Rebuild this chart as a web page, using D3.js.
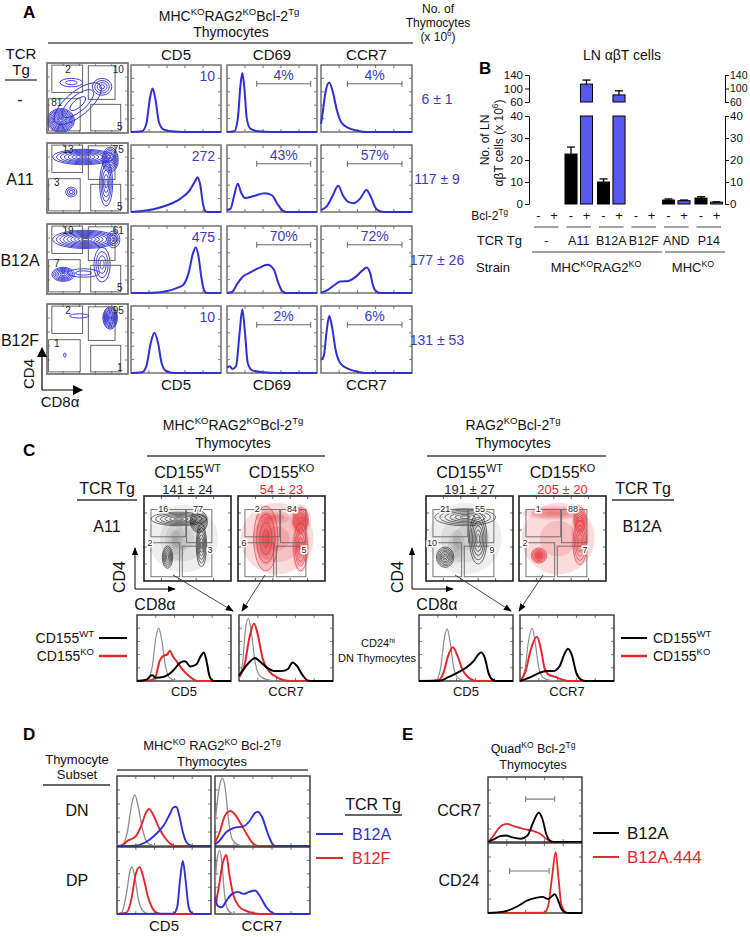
<!DOCTYPE html>
<html><head><meta charset="utf-8">
<script src="https://cdn.jsdelivr.net/npm/d3@7"></script>
<style>body{margin:0;background:#fff} text{font-family:"Liberation Sans",Arial,sans-serif}</style>
</head><body><script>
// ================= DATA =================
// ---- Panel A
const rowsA = ["-", "A11", "B12A", "B12F"];
const thymoCountsA = ["6 ± 1", "117 ± 9", "177 ± 26", "131 ± 53"];
const cd5MfiA = ["10", "272", "475", "10"];
const cd69PctA = ["4%", "43%", "70%", "2%"];
const ccr7PctA = ["4%", "57%", "72%", "6%"];
const gateNumsA = [["2","10","81","5"],["13","75","3","5"],["19","61","7","5"],["2","95","1","1"]];
const histA_CD5 = [
  [[0,0],[0.12,0.01],[0.17,0.12],[0.21,0.5],[0.24,0.65],[0.27,0.5],[0.31,0.15],[0.36,0.04],[0.45,0.01],[0.6,0],[1,0]],
  [[0,0],[0.1,0.01],[0.25,0.04],[0.4,0.1],[0.55,0.2],[0.65,0.32],[0.72,0.48],[0.74,0.52],[0.77,0.4],[0.8,0.12],[0.83,0.01],[0.86,0],[1,0]],
  [[0,0],[0.25,0.005],[0.4,0.03],[0.5,0.07],[0.58,0.12],[0.64,0.3],[0.69,0.6],[0.72,0.68],[0.75,0.55],[0.78,0.25],[0.81,0.05],[0.84,0],[1,0]],
  [[0,0],[0.12,0.01],[0.17,0.1],[0.22,0.45],[0.26,0.6],[0.3,0.45],[0.34,0.15],[0.39,0.03],[0.48,0],[1,0]]
];
const histA_CD69 = [
  [[0,0],[0.08,0.01],[0.12,0.2],[0.15,0.7],[0.17,0.88],[0.19,0.7],[0.22,0.2],[0.26,0.05],[0.35,0.01],[0.5,0],[1,0]],
  [[0,0.03],[0.04,0.05],[0.08,0.25],[0.12,0.42],[0.16,0.28],[0.2,0.21],[0.3,0.24],[0.42,0.28],[0.5,0.25],[0.56,0.12],[0.62,0.02],[0.66,0],[1,0]],
  [[0,0],[0.05,0.01],[0.12,0.15],[0.18,0.25],[0.25,0.3],[0.35,0.37],[0.45,0.42],[0.52,0.35],[0.57,0.15],[0.62,0.02],[0.66,0],[1,0]],
  [[0,0.08],[0.03,0.1],[0.06,0.06],[0.1,0.1],[0.14,0.6],[0.17,0.95],[0.2,0.6],[0.23,0.15],[0.28,0.04],[0.4,0.01],[0.55,0],[1,0]]
];
const histA_CCR7 = [
  [[0,0.12],[0.02,0.3],[0.05,0.6],[0.09,0.74],[0.13,0.6],[0.17,0.35],[0.22,0.15],[0.3,0.06],[0.4,0.02],[0.5,0],[1,0]],
  [[0,0.03],[0.06,0.08],[0.12,0.22],[0.19,0.39],[0.24,0.25],[0.3,0.15],[0.36,0.13],[0.43,0.2],[0.5,0.33],[0.55,0.22],[0.6,0.06],[0.65,0.01],[0.7,0],[1,0]],
  [[0,0],[0.08,0.05],[0.15,0.12],[0.21,0.17],[0.3,0.18],[0.38,0.24],[0.45,0.33],[0.5,0.38],[0.54,0.3],[0.57,0.12],[0.61,0.02],[0.65,0],[1,0]],
  [[0,0.2],[0.03,0.25],[0.06,0.6],[0.09,0.85],[0.12,0.7],[0.16,0.35],[0.21,0.15],[0.3,0.06],[0.4,0.02],[0.5,0],[1,0]]
];
// contour blobs: [cx, cy, rx, ry, angle, levels, fillOnly]
const blobsA = [
  [[0.17,0.18,0.17,0.17,0,11,0],[0.38,0.42,0.36,0.17,40,3,0],[0.68,0.66,0.12,0.12,0,4,0],[0.3,0.72,0.14,0.06,0,2,0]],
  [[0.45,0.8,0.38,0.11,0,8,0],[0.78,0.76,0.1,0.18,0,8,0],[0.73,0.42,0.08,0.32,0,5,0],[0.3,0.3,0.07,0.07,0,3,0]],
  [[0.47,0.78,0.4,0.13,0,9,0],[0.82,0.78,0.08,0.12,0,4,0],[0.68,0.42,0.1,0.25,0,4,0],[0.2,0.28,0.14,0.1,0,7,0],[0.45,0.3,0.2,0.06,0,2,0]],
  [[0.78,0.8,0.09,0.16,0,10,0],[0.4,0.83,0.12,0.03,0,1,0],[0.22,0.27,0.015,0.03,0,1,0]]
];

// ---- Panel B
const tcrB = ["-", "A11", "B12A", "B12F", "AND", "P14"];
const bclB = ["-", "+"];
const lnMinus = [0, 22.7, 10, 0, 1.8, 2.7];
const lnMinusErr = [0, 3.2, 1.4, 0, 0.5, 0.6];
const lnPlus = [0, 113, 81, 0, 1.5, 0.8];
const lnPlusErr = [0, 12, 12, 0, 0.3, 0.2];
const lowTicksB = [0, 10, 20, 30, 40];
const upTicksB = [60, 100, 140];

// ---- Panel C
const gateNumsC = [["16","77","2","3"],["2","84","6","5"],["21","55","10","9"],["1","88","2","7"]];
const countsC = ["141 ± 24", "54 ± 23", "191 ± 27", "205 ± 20"];
const blobsC = [
  [[0.45,0.5,0.4,0.4,0,3,1],[0.4,0.73,0.32,0.08,0,6,0],[0.63,0.7,0.1,0.13,0,8,0],[0.66,0.42,0.06,0.25,0,6,0],[0.27,0.28,0.06,0.13,0,6,0],[0.36,0.45,0.12,0.22,0,3,1]],
  [[0.45,0.5,0.42,0.42,0,3,1],[0.32,0.5,0.14,0.38,0,6,1],[0.32,0.5,0.14,0.38,0,4,0],[0.4,0.75,0.2,0.08,0,3,1],[0.72,0.72,0.09,0.15,0,8,0],[0.72,0.72,0.12,0.18,0,4,1],[0.72,0.4,0.08,0.28,0,5,0],[0.72,0.4,0.1,0.3,0,3,1]],
  [[0.45,0.5,0.42,0.42,0,3,1],[0.45,0.75,0.35,0.1,0,6,0],[0.6,0.5,0.1,0.3,0,6,0],[0.22,0.28,0.1,0.12,0,7,0],[0.35,0.4,0.1,0.2,0,3,1]],
  [[0.45,0.5,0.42,0.42,0,2,1],[0.4,0.8,0.36,0.08,0,4,1],[0.7,0.72,0.07,0.15,0,7,0],[0.7,0.45,0.08,0.26,0,5,0],[0.7,0.55,0.1,0.35,0,3,1],[0.23,0.3,0.09,0.09,0,6,1],[0.23,0.3,0.09,0.09,0,6,0]]
];
// histograms: [isotype, CD155KO, CD155WT]
const histC_A11_CD5 = [
  [[0,0],[0.1,0.01],[0.16,0.2],[0.2,0.65],[0.23,0.8],[0.26,0.65],[0.3,0.25],[0.34,0.06],[0.4,0.01],[0.5,0],[1,0]],
  [[0,0],[0.15,0.01],[0.2,0.08],[0.24,0.3],[0.28,0.38],[0.32,0.4],[0.35,0.46],[0.38,0.38],[0.42,0.3],[0.48,0.18],[0.55,0.08],[0.62,0.01],[0.66,0],[1,0]],
  [[0,0],[0.1,0.02],[0.16,0.09],[0.2,0.05],[0.28,0.06],[0.38,0.15],[0.46,0.28],[0.51,0.3],[0.57,0.22],[0.63,0.25],[0.68,0.38],[0.71,0.43],[0.74,0.3],[0.77,0.08],[0.8,0.01],[0.83,0],[1,0]]
];
const histC_A11_CCR7 = [
  [[0,0.05],[0.04,0.3],[0.07,0.8],[0.1,0.95],[0.13,0.75],[0.17,0.3],[0.22,0.08],[0.3,0.02],[0.4,0],[1,0]],
  [[0,0.05],[0.06,0.25],[0.11,0.65],[0.16,0.87],[0.2,0.7],[0.25,0.35],[0.32,0.15],[0.4,0.06],[0.48,0.01],[0.55,0],[1,0]],
  [[0,0.08],[0.06,0.2],[0.12,0.3],[0.17,0.35],[0.22,0.3],[0.3,0.2],[0.38,0.15],[0.45,0.15],[0.52,0.18],[0.57,0.28],[0.62,0.22],[0.68,0.08],[0.73,0.01],[0.78,0],[1,0]]
];
const histC_B12A_CD5 = [
  [[0,0],[0.18,0.01],[0.23,0.2],[0.27,0.65],[0.3,0.79],[0.33,0.6],[0.37,0.2],[0.42,0.04],[0.5,0],[1,0]],
  [[0,0],[0.2,0.01],[0.26,0.12],[0.31,0.38],[0.36,0.51],[0.41,0.38],[0.46,0.18],[0.52,0.06],[0.58,0.01],[0.62,0],[1,0]],
  [[0,0],[0.22,0.005],[0.3,0.05],[0.4,0.12],[0.5,0.2],[0.58,0.3],[0.63,0.4],[0.66,0.43],[0.7,0.35],[0.74,0.12],[0.78,0.02],[0.82,0],[1,0]]
];
const histC_B12A_CCR7 = [
  [[0,0],[0.05,0.15],[0.09,0.6],[0.13,0.8],[0.16,0.6],[0.2,0.2],[0.25,0.05],[0.32,0.01],[0.4,0],[1,0]],
  [[0,0],[0.06,0.15],[0.11,0.45],[0.18,0.67],[0.22,0.5],[0.26,0.2],[0.3,0.1],[0.38,0.06],[0.45,0.02],[0.52,0],[1,0]],
  [[0,0],[0.1,0.05],[0.2,0.12],[0.28,0.15],[0.35,0.15],[0.42,0.22],[0.47,0.4],[0.51,0.49],[0.55,0.4],[0.6,0.12],[0.65,0.02],[0.7,0],[1,0]]
];

// ---- Panel D  [isotype, B12F, B12A]
const histD_DN_CD5 = [
  [[0,0],[0.06,0.02],[0.11,0.2],[0.16,0.62],[0.19,0.73],[0.22,0.6],[0.27,0.25],[0.32,0.05],[0.38,0.01],[0.45,0],[1,0]],
  [[0,0],[0.05,0.01],[0.12,0.08],[0.2,0.14],[0.26,0.3],[0.31,0.48],[0.34,0.53],[0.38,0.46],[0.45,0.25],[0.52,0.1],[0.58,0.02],[0.62,0],[1,0]],
  [[0,0],[0.2,0.005],[0.3,0.05],[0.4,0.15],[0.5,0.3],[0.56,0.45],[0.6,0.55],[0.63,0.56],[0.66,0.45],[0.7,0.2],[0.74,0.05],[0.78,0.01],[0.82,0],[1,0]]
];
const histD_DN_CCR7 = [
  [[0,0.3],[0.03,0.7],[0.06,0.93],[0.08,0.97],[0.11,0.8],[0.14,0.4],[0.18,0.1],[0.24,0.02],[0.3,0],[1,0]],
  [[0,0.05],[0.05,0.2],[0.1,0.42],[0.16,0.5],[0.21,0.45],[0.27,0.32],[0.33,0.18],[0.38,0.07],[0.43,0.01],[0.47,0],[1,0]],
  [[0,0.02],[0.05,0.08],[0.12,0.2],[0.2,0.26],[0.3,0.28],[0.36,0.35],[0.42,0.47],[0.45,0.49],[0.5,0.4],[0.55,0.2],[0.6,0.04],[0.64,0],[1,0]]
];
const histD_DP_CD5 = [
  [[0,0],[0.05,0.02],[0.1,0.3],[0.14,0.65],[0.16,0.7],[0.19,0.55],[0.23,0.2],[0.28,0.04],[0.34,0],[1,0]],
  [[0,0],[0.1,0.02],[0.15,0.2],[0.2,0.6],[0.24,0.7],[0.28,0.55],[0.33,0.25],[0.38,0.08],[0.44,0.01],[0.5,0],[1,0]],
  [[0,0],[0.6,0.005],[0.64,0.1],[0.67,0.5],[0.7,0.79],[0.73,0.5],[0.76,0.12],[0.79,0.02],[0.82,0],[1,0]]
];
const histD_DP_CCR7 = [
  [[0,0.4],[0.02,0.8],[0.05,0.95],[0.07,0.8],[0.1,0.3],[0.13,0.08],[0.18,0.01],[0.25,0],[1,0]],
  [[0,0.1],[0.04,0.4],[0.08,0.75],[0.12,0.88],[0.15,0.6],[0.19,0.3],[0.25,0.12],[0.32,0.05],[0.42,0.01],[0.5,0],[1,0]],
  [[0,0.25],[0.03,0.12],[0.07,0.1],[0.12,0.2],[0.18,0.3],[0.24,0.33],[0.3,0.3],[0.36,0.33],[0.42,0.35],[0.48,0.25],[0.54,0.1],[0.6,0.02],[0.64,0],[1,0]]
];

// ---- Panel E  [B12A.444, B12A]
const histE_CCR7 = [
  [[0,0],[0.05,0.08],[0.12,0.22],[0.2,0.28],[0.28,0.24],[0.38,0.2],[0.48,0.17],[0.55,0.13],[0.61,0.06],[0.66,0.01],[0.7,0],[1,0]],
  [[0,0],[0.06,0.04],[0.13,0.09],[0.19,0.1],[0.26,0.07],[0.35,0.05],[0.42,0.1],[0.48,0.3],[0.54,0.45],[0.58,0.35],[0.62,0.12],[0.66,0.02],[0.7,0],[1,0]]
];
const histE_CD24 = [
  [[0,0],[0.6,0.005],[0.64,0.1],[0.68,0.5],[0.72,0.87],[0.75,0.5],[0.78,0.12],[0.82,0.02],[0.86,0],[1,0]],
  [[0,0],[0.1,0.01],[0.2,0.03],[0.32,0.1],[0.42,0.18],[0.52,0.22],[0.58,0.23],[0.64,0.2],[0.68,0.24],[0.71,0.27],[0.74,0.2],[0.78,0.06],[0.82,0.01],[0.86,0],[1,0]]
];

// ================= DRAWING =================
const BLUE = "#2f2fd2", BLUET = "#3a3ac8", RED = "#e3262a", GRAY = "#8c8c8c", BARBLUE = "#5757f2";
const svg = d3.select("body").append("svg").attr("width", 750).attr("height", 937);
const defs = svg.append("defs");
defs.append("marker").attr("id", "arr").attr("viewBox", "0 0 10 10").attr("refX", 9).attr("refY", 5)
  .attr("markerWidth", 8).attr("markerHeight", 8).attr("markerUnits", "userSpaceOnUse").attr("orient", "auto")
  .append("path").attr("d", "M0,1L10,5L0,9z").attr("fill", "#000");
defs.append("marker").attr("id", "arr2").attr("viewBox", "0 0 10 10").attr("refX", 9).attr("refY", 5)
  .attr("markerWidth", 10).attr("markerHeight", 10).attr("markerUnits", "userSpaceOnUse").attr("orient", "auto")
  .append("path").attr("d", "M0,0L10,5L0,10z").attr("fill", "#000");

function rich(x, y, str, o = {}) {
  const size = o.size || 13;
  const t = svg.append("text").attr("x", x).attr("y", y).attr("text-anchor", o.anchor || "middle")
    .attr("font-size", size).attr("fill", o.fill || "#111");
  if (o.weight) t.attr("font-weight", o.weight);
  if (o.rotate) t.attr("transform", `rotate(${o.rotate},${x},${y})`);
  let sup = false;
  str.split(/(\^\{[^}]*\})/).forEach(p => {
    if (!p) return;
    if (p.startsWith("^{")) {
      t.append("tspan").attr("font-size", size * 0.68).attr("dy", -size * 0.4).text(p.slice(2, -1));
      sup = true;
    } else {
      const ts = t.append("tspan").text(p);
      if (sup) { ts.attr("dy", size * 0.4); sup = false; }
    }
  });
  return t;
}
function hline(x1, x2, y, col = "#444", w = 1.3) {
  svg.append("line").attr("x1", x1).attr("x2", x2).attr("y1", y).attr("y2", y).attr("stroke", col).attr("stroke-width", w);
}
function frame(x0, y0, w, h, col, sw, tcol) {
  const g = svg.append("g");
  const sx = d3.scaleLinear([0, 1], [x0, x0 + w]), sy = d3.scaleLinear([0, 1], [y0 + h, y0]);
  const tv = sx.ticks(5).filter(t => t > 0 && t < 1);
  tv.forEach(t => {
    g.append("line").attr("x1", sx(t)).attr("x2", sx(t)).attr("y1", y0).attr("y2", y0 + 3).attr("stroke", tcol);
    g.append("line").attr("x1", sx(t)).attr("x2", sx(t)).attr("y1", y0 + h).attr("y2", y0 + h - 3).attr("stroke", tcol);
    g.append("line").attr("y1", sy(t)).attr("y2", sy(t)).attr("x1", x0).attr("x2", x0 + 3).attr("stroke", tcol);
    g.append("line").attr("y1", sy(t)).attr("y2", sy(t)).attr("x1", x0 + w).attr("x2", x0 + w - 3).attr("stroke", tcol);
  });
  g.append("rect").attr("x", x0).attr("y", y0).attr("width", w).attr("height", h)
    .attr("fill", "none").attr("stroke", col).attr("stroke-width", sw);
  return { sx, sy, g };
}
function hist(x0, y0, w, h, curves, colors, o = {}) {
  const { sx, sy } = frame(x0, y0, w, h, o.frame || "#333", o.fw || 1.4, o.tick || "#777");
  const line = d3.line().x(d => sx(d[0])).y(d => sy(d[1])).curve(d3.curveMonotoneX);
  curves.forEach((c, i) => {
    svg.append("path").attr("d", line(c)).attr("fill", "none").attr("stroke", colors[i])
      .attr("stroke-width", (o.widths ? o.widths[i] : 1.8)).attr("stroke-linejoin", "round");
  });
  return { sx, sy };
}
function contourPlot(x0, y0, w, h, blobs, color, o = {}) {
  const clipId = "clip" + Math.round(x0) + "_" + Math.round(y0);
  defs.append("clipPath").attr("id", clipId).append("rect").attr("x", x0).attr("y", y0).attr("width", w).attr("height", h);
  const g = svg.append("g").attr("clip-path", `url(#${clipId})`);
  const sx = d3.scaleLinear([0, 1], [x0, x0 + w]), sy = d3.scaleLinear([0, 1], [y0 + h, y0]);
  blobs.filter(b => b[6]).forEach(b => drawBlob(b, true));
  blobs.filter(b => !b[6]).forEach(b => drawBlob(b, false));
  function drawBlob(b, fillOnly) {
    const [cx, cy, rx, ry, ang, n] = b;
    for (let i = n; i >= 1; i--) {
      const px = sx(cx), py = sy(cy);
      const e = g.append("ellipse").attr("cx", px).attr("cy", py)
        .attr("rx", (sx(rx) - sx(0)) * i / n).attr("ry", (sy(0) - sy(ry)) * i / n)
        .attr("transform", `rotate(${-ang},${px},${py})`);
      if (fillOnly) e.attr("fill", color).attr("fill-opacity", o.fop || 0.1).attr("stroke", "none");
      else e.attr("fill", "none").attr("stroke", color).attr("stroke-width", o.sw || 0.8).attr("stroke-opacity", o.sop || 1);
    }
  }
  frame(x0, y0, w, h, o.frame || "#666", o.fw || 1.6, o.tick || "#888");
  return { sx, sy };
}
function gates(sx, sy, rects, nums, pos, o = {}) {
  rects.forEach(r => {
    svg.append("rect").attr("x", sx(r[0])).attr("y", sy(r[3])).attr("width", sx(r[1]) - sx(r[0]))
      .attr("height", sy(r[2]) - sy(r[3])).attr("fill", "none").attr("stroke", o.col || "#444").attr("stroke-width", o.sw || 0.9);
  });
  nums.forEach((n, i) => {
    const t = svg.append("text").attr("x", sx(pos[i][0])).attr("y", sy(pos[i][1])).attr("text-anchor", "middle")
      .attr("font-size", o.size || 10).attr("fill", "#222").text(n);
    if (o.halo) t.attr("stroke", "#fff").attr("stroke-width", 3).attr("paint-order", "stroke");
  });
}

// ---------- Panel A ----------
svg.append("text").attr("x", 23).attr("y", 18).attr("font-size", 17).attr("font-weight", "bold").text("A");
rich(229, 21, "MHC^{KO}RAG2^{KO}Bcl-2^{Tg}", { size: 14 });
rich(231, 37, "Thymocytes", { size: 14 });
hline(48, 413, 43, "#555", 1.3);
rich(438, 13, "No. of", { size: 12 });
rich(438, 27, "Thymocytes", { size: 12 });
rich(438, 41, "(x 10^{6})", { size: 12 });
rich(21, 59, "TCR", { size: 15 });
rich(21, 75, "Tg", { size: 15 });
hline(5, 37, 80, "#333", 1.3);
const colXA = [131, 227, 321], colWA = [90, 90, 91];
["CD5", "CD69", "CCR7"].forEach((c, i) => { rich(colXA[i] + colWA[i] / 2, 60, c, { size: 15 }); rich(colXA[i] + colWA[i] / 2, 390, c, { size: 15 }); });
const rowYA = [65, 145, 226, 306], hA = 67;
const gateRectsA = [[0.06, 0.44, 0.58, 0.97], [0.51, 0.84, 0.48, 0.96], [0.02, 0.41, 0.03, 0.49], [0.54, 0.91, 0.03, 0.41]];
const gatePosA = [[0.26, 0.86], [0.88, 0.86], [0.12, 0.39], [0.9, 0.05]];
rowsA.forEach((r, i) => {
  const y0 = rowYA[i];
  rich(20, y0 + hA / 2 + 6, r, { size: 16 });
  const c = contourPlot(47, y0 - 2, 81, hA + 3, blobsA[i], BLUE, { sw: 0.9 });
  gates(c.sx, c.sy, gateRectsA, gateNumsA[i], gatePosA, { size: 10, col: "#555" });
  hist(colXA[0], y0, colWA[0], hA, [histA_CD5[i]], [BLUE], { frame: "#666", fw: 1.4, widths: [2] });
  svg.append("text").attr("x", colXA[0] + colWA[0] - 6).attr("y", y0 + 16).attr("text-anchor", "end")
    .attr("font-size", 14).attr("fill", BLUET).text(cd5MfiA[i]);
  const pcts = [cd69PctA[i], ccr7PctA[i]], gx = [[0.33, 0.93], [0.29, 0.89]];
  [1, 2].forEach((k, j) => {
    const data = k === 1 ? histA_CD69[i] : histA_CCR7[i];
    const s = hist(colXA[k], y0, colWA[k], hA, [data], [BLUE], { frame: "#666", fw: 1.4, widths: [2] });
    const yb = s.sy(0.72), xa = s.sx(gx[j][0]), xb = s.sx(gx[j][1]);
    hline(xa, xb, yb, "#666", 1);
    [xa, xb].forEach(x => svg.append("line").attr("x1", x).attr("x2", x).attr("y1", yb - 3).attr("y2", yb + 3).attr("stroke", "#666"));
    svg.append("text").attr("x", (xa + xb) / 2).attr("y", yb - 4).attr("text-anchor", "middle")
      .attr("font-size", 14).attr("fill", BLUET).text(pcts[j]);
  });
  svg.append("text").attr("x", 437).attr("y", y0 + hA / 2 + 5).attr("text-anchor", "middle")
    .attr("font-size", 14).attr("fill", BLUET).text(thymoCountsA[i]);
});
svg.append("path").attr("d", "M42,390L42,348").attr("stroke", "#000").attr("stroke-width", 1.2).attr("marker-end", "url(#arr2)");
svg.append("path").attr("d", "M42,390L82,390").attr("stroke", "#000").attr("stroke-width", 1.2).attr("marker-end", "url(#arr2)");
rich(34, 374, "CD4", { size: 15, rotate: -90 });
rich(60, 407, "CD8α", { size: 15 });

// ---------- Panel B ----------
svg.append("text").attr("x", 479).attr("y", 74).attr("font-size", 17).attr("font-weight", "bold").text("B");
rich(622, 60, "LN αβT cells", { size: 14 });
const xG = d3.scaleBand().domain(tcrB).range([530, 725]);
const xS = d3.scaleBand().domain(bclB).range([0, xG.bandwidth()]).paddingInner(0.22).paddingOuter(0.16);
const yLow = d3.scaleLinear().domain([0, 40]).range([204, 116]);
const yUp = d3.scaleLinear().domain([60, 140]).range([102, 75]);
function styleAx(g) { g.attr("font-family", "Liberation Sans, Arial, sans-serif").attr("font-size", 11.5); g.selectAll("text").attr("fill", "#111"); g.selectAll("path,line").attr("stroke", "#111"); }
svg.append("g").attr("transform", "translate(529,0)").call(d3.axisLeft(yLow).tickValues(lowTicksB).tickSize(4).tickSizeOuter(0).tickPadding(2)).call(styleAx);
svg.append("g").attr("transform", "translate(529,0)").call(d3.axisLeft(yUp).tickValues(upTicksB).tickSize(4).tickSizeOuter(0).tickPadding(2)).call(styleAx);
svg.append("g").attr("transform", "translate(725,0)").call(d3.axisRight(yLow).tickValues(lowTicksB).tickSize(4).tickSizeOuter(0).tickPadding(1)).call(styleAx);
svg.append("g").attr("transform", "translate(725,0)").call(d3.axisRight(yUp).tickValues(upTicksB).tickSize(4).tickSizeOuter(0).tickPadding(1)).call(styleAx)
  .selectAll("text").attr("font-size", 10.5);
rich(489, 140, "No. of LN", { size: 12, rotate: -90 });
rich(503, 143, "αβT cells (x 10^{6})", { size: 12, rotate: -90 });
tcrB.forEach((grp, i) => {
  const vals = [lnMinus[i], lnPlus[i]], errs = [lnMinusErr[i], lnPlusErr[i]], cols = ["#000", BARBLUE];
  bclB.forEach((b, j) => {
    const x = xG(grp) + xS(b), bw = xS.bandwidth(), v = vals[j], cx = x + bw / 2;
    if (v <= 40) {
      svg.append("rect").attr("x", x).attr("y", yLow(v)).attr("width", bw).attr("height", yLow(0) - yLow(v))
        .attr("fill", cols[j]).attr("stroke", "#000").attr("stroke-width", 1);
      if (errs[j] > 0) {
        const yt = yLow(v + errs[j]);
        svg.append("line").attr("x1", cx).attr("x2", cx).attr("y1", yLow(v)).attr("y2", yt).attr("stroke", "#000").attr("stroke-width", 1.3);
        svg.append("line").attr("x1", cx - 4).attr("x2", cx + 4).attr("y1", yt).attr("y2", yt).attr("stroke", "#000").attr("stroke-width", 1.3);
      }
    } else {
      svg.append("rect").attr("x", x).attr("y", yLow(40)).attr("width", bw).attr("height", yLow(0) - yLow(40))
        .attr("fill", cols[j]).attr("stroke", "#000").attr("stroke-width", 1);
      svg.append("rect").attr("x", x).attr("y", yUp(v)).attr("width", bw).attr("height", yUp(60) - yUp(v))
        .attr("fill", cols[j]).attr("stroke", "#000").attr("stroke-width", 1);
      const yt = yUp(v + errs[j]);
      svg.append("line").attr("x1", cx).attr("x2", cx).attr("y1", yUp(v)).attr("y2", yt).attr("stroke", "#000").attr("stroke-width", 1.3);
      svg.append("line").attr("x1", cx - 4).attr("x2", cx + 4).attr("y1", yt).attr("y2", yt).attr("stroke", "#000").attr("stroke-width", 1.3);
    }
    rich(cx, 220, b, { size: 13 });
  });
  hline(xG(grp) + 4, xG(grp) + xG.bandwidth() - 4, 227, "#444", 1);
  rich(xG(grp) + xG.bandwidth() / 2, 245, grp, { size: 12.5 });
});
rich(508, 220, "Bcl-2^{Tg}", { size: 12, anchor: "end" });
rich(522, 245, "TCR Tg", { size: 13, anchor: "end" });
rich(510, 272, "Strain", { size: 13, anchor: "end" });
hline(532, 662, 252, "#444", 1);
hline(665, 725, 252, "#444", 1);
rich(596, 272, "MHC^{KO}RAG2^{KO}", { size: 13 });
rich(693, 272, "MHC^{KO}", { size: 13 });

// ---------- Panel C ----------
svg.append("text").attr("x", 23).attr("y", 456).attr("font-size", 17).attr("font-weight", "bold").text("C");
rich(233, 430, "MHC^{KO}RAG2^{KO}Bcl-2^{Tg}", { size: 14 });
rich(233, 448, "Thymocytes", { size: 14 });
hline(147, 325, 456, "#444", 1.3);
rich(513, 430, "RAG2^{KO}Bcl-2^{Tg}", { size: 14 });
rich(513, 448, "Thymocytes", { size: 14 });
hline(427, 606, 456, "#444", 1.3);
const dotX = [144, 238, 426, 519], dotW = 87, dotY = 496, dotH = 85;
const headC = ["CD155^{WT}", "CD155^{KO}", "CD155^{WT}", "CD155^{KO}"];
const colC = ["#111", RED, "#111", RED];
const gateRectsC = [[0.08, 0.48, 0.52, 0.84], [0.49, 0.78, 0.45, 0.84], [0.08, 0.41, 0.05, 0.45], [0.44, 0.78, 0.05, 0.41]];
const gatePosC = [[0.22, 0.81], [0.62, 0.81], [0.07, 0.41], [0.76, 0.33]];
dotX.forEach((x, i) => {
  rich(x + dotW / 2, 478, headC[i], { size: 16 });
  rich(x + dotW / 2, 494, countsC[i], { size: 13, fill: i % 2 ? RED : "#222" });
  const c = contourPlot(x, dotY, dotW, dotH, blobsC[i], colC[i],
    { frame: "#222", fw: 1.6, tick: "#666", fop: i % 2 ? 0.16 : 0.07, sw: 0.7, sop: 0.85 });
  gates(c.sx, c.sy, gateRectsC, gateNumsC[i], gatePosC, { size: 9, col: "#666", halo: true });
});
rich(107, 494, "TCR Tg", { size: 16 });
hline(77, 137, 500, "#333", 1.3);
rich(107, 532, "A11", { size: 16 });
rich(643, 494, "TCR Tg", { size: 16 });
hline(612, 674, 500, "#333", 1.3);
rich(642, 532, "B12A", { size: 16 });
[[135, 175, 120, 155], [412, 453, 398, 437]].forEach(a => {
  svg.append("path").attr("d", `M${a[0]},589L${a[0]},548`).attr("stroke", "#000").attr("marker-end", "url(#arr)");
  svg.append("path").attr("d", `M${a[0]},589L${a[1]},589`).attr("stroke", "#000").attr("marker-end", "url(#arr)");
  rich(a[2] + 5, 577, "CD4", { size: 16, rotate: -90 });
  rich(a[3], 610, "CD8α", { size: 16 });
});
[[173, 575, 233, 611], [265, 575, 242, 611], [455, 575, 511, 611], [543, 575, 519, 611]].forEach(a => {
  svg.append("path").attr("d", `M${a[0]},${a[1]}L${a[2]},${a[3]}`).attr("stroke", "#333").attr("stroke-width", 0.9).attr("marker-end", "url(#arr)");
});
const histCBoxes = [[137, histC_A11_CD5, "CD5"], [239, histC_A11_CCR7, "CCR7"], [419, histC_B12A_CD5, "CD5"], [520, histC_B12A_CCR7, "CCR7"]];
histCBoxes.forEach(b => {
  hist(b[0], 615, 94, 66, b[1], [GRAY, RED, "#000"], { widths: [1.2, 2, 2] });
  rich(b[0] + 47, 696, b[2], { size: 13 });
});
rich(94, 643, "CD155^{WT}", { size: 14, anchor: "end" });
rich(94, 661, "CD155^{KO}", { size: 14, anchor: "end" });
hline(99, 127, 638, "#000", 2); hline(99, 127, 656, RED, 2.5);
rich(653, 643, "CD155^{WT}", { size: 14, anchor: "start" });
rich(653, 661, "CD155^{KO}", { size: 14, anchor: "start" });
hline(621, 647, 638, "#000", 2); hline(621, 647, 656, RED, 2.5);
rich(378, 647, "CD24^{hi}", { size: 11 });
rich(377, 662, "DN Thymocytes", { size: 11 });

// ---------- Panel D ----------
svg.append("text").attr("x", 23).attr("y", 740).attr("font-size", 17).attr("font-weight", "bold").text("D");
rich(212, 750, "MHC^{KO} RAG2^{KO} Bcl-2^{Tg}", { size: 13 });
rich(212, 766, "Thymocytes", { size: 13 });
hline(117, 308, 770, "#444", 1.3);
rich(77, 764, "Thymocyte", { size: 13 });
rich(77, 779, "Subset", { size: 13 });
hline(43, 110, 785, "#333", 1.3);
rich(77, 816, "DN", { size: 16 });
rich(77, 886, "DP", { size: 16 });
hist(117, 776, 94, 70, histD_DN_CD5, [GRAY, RED, BLUE], { widths: [1.3, 1.9, 1.9] });
hist(215, 776, 95, 70, histD_DN_CCR7, [GRAY, RED, BLUE], { widths: [1.3, 1.9, 1.9] });
hist(117, 847, 94, 67, histD_DP_CD5, [GRAY, RED, BLUE], { widths: [1.3, 1.9, 1.9] });
hist(215, 847, 95, 67, histD_DP_CCR7, [GRAY, RED, BLUE], { widths: [1.3, 1.9, 1.9] });
rich(164, 931, "CD5", { size: 15 });
rich(262, 931, "CCR7", { size: 15 });
rich(373, 810, "TCR Tg", { size: 16 });
hline(345, 402, 815, "#333", 1.3);
hline(316, 343, 834, BLUE, 2); rich(352, 840, "B12A", { size: 16, anchor: "start", fill: BLUE });
hline(316, 343, 858, RED, 2); rich(352, 864, "B12F", { size: 16, anchor: "start", fill: RED });

// ---------- Panel E ----------
svg.append("text").attr("x", 402).attr("y", 740).attr("font-size", 17).attr("font-weight", "bold").text("E");
rich(533, 753, "Quad^{KO} Bcl-2^{Tg}", { size: 12.5 });
rich(533, 769, "Thymocytes", { size: 12.5 });
const e1 = hist(488, 777, 94, 65, histE_CCR7, [RED, "#000"], { widths: [1.8, 1.8] });
const e2 = hist(488, 843, 94, 70, histE_CD24, [RED, "#000"], { widths: [1.8, 1.8] });
[[e1, 0.4, 0.71, 0.66], [e2, 0.23, 0.65, 0.6]].forEach(a => {
  const s = a[0], xa = s.sx(a[1]), xb = s.sx(a[2]), y = s.sy(a[3]);
  hline(xa, xb, y, "#777", 1.2);
  [xa, xb].forEach(x => svg.append("line").attr("x1", x).attr("x2", x).attr("y1", y - 3).attr("y2", y + 3).attr("stroke", "#777"));
});
rich(459, 816, "CCR7", { size: 16 });
rich(459, 886, "CD24", { size: 16 });
hline(593, 619, 833, "#000", 2); rich(627, 839, "B12A", { size: 17, anchor: "start" });
hline(593, 619, 857, RED, 2); rich(627, 863, "B12A.444", { size: 17, anchor: "start", fill: RED });
</script></body></html>
